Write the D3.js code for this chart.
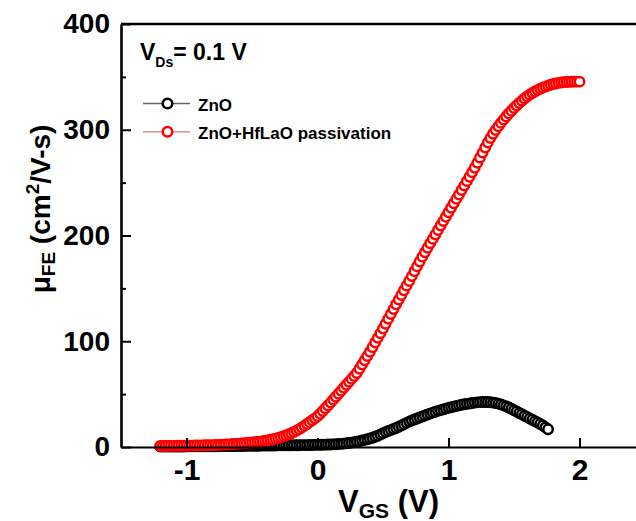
<!DOCTYPE html>
<html>
<head>
<meta charset="utf-8">
<script src="https://cdn.jsdelivr.net/npm/d3@7"></script>
<style>
  body { margin: 0; background: #fff; }
  svg { display: block; font-family: "Liberation Sans", Arial, sans-serif; font-weight: bold; }
</style>
</head>
<body>
<svg id="chart" width="636" height="521"></svg>
<script>
// gate sweep, V (both curves start at -1.2 V, step 0.02 V)
const vgsStart = -1.2
const vgsStep = 0.02

// field-effect mobility, cm2/V-s
const zno = [
  0.5, 0.5, 0.5, 0.5, 0.5, 0.5, 0.5, 0.5, 0.5, 0.5, 0.6, 0.6, 0.6, 0.6, 0.6, 0.6, 0.6, 0.6, 0.7, 0.7, 0.7,
  0.7, 0.7, 0.8, 0.8, 0.8, 0.8, 0.9, 0.9, 0.9, 1.0, 1.0, 1.0, 1.1, 1.1, 1.1,
  1.2, 1.2, 1.2, 1.3, 1.3, 1.3, 1.4, 1.4, 1.4, 1.5,
  1.5, 1.5, 1.6, 1.6, 1.6, 1.7, 1.7, 1.7, 1.8, 1.8,
  1.8, 1.9, 1.9, 2.0, 2.0, 2.1, 2.1, 2.2, 2.3, 2.4,
  2.5, 2.6, 2.8, 3.0, 3.2, 3.5, 3.8, 4.1, 4.5, 5.0,
  5.5, 6.1, 6.7, 7.3, 8.0, 8.8, 9.7, 10.7, 11.8, 13.0,
  14.1, 15.1, 16.0, 17.0, 18.0, 19.2, 20.4, 21.6, 22.8, 24.0,
  25.0, 26.0, 27.0, 27.9, 28.8, 29.8, 30.7, 31.6, 32.5, 33.4,
  34.2, 34.9, 35.6, 36.3, 37.0, 37.6, 38.2, 38.8, 39.4, 40.0,
  40.4, 40.8, 41.2, 41.6, 42.0, 42.2, 42.4, 42.5, 42.5, 42.5,
  42.3, 42.0, 41.6, 41.0, 40.3, 39.4, 38.4, 37.3, 36.1, 34.8,
  33.5, 32.2, 30.9, 29.6, 28.3, 27.0, 25.7, 24.4, 23.1, 21.8,
  20.3, 18.6, 16.8
]

const znoHfLaO = [
  1.0, 1.0, 1.0, 1.0, 1.1, 1.1, 1.1, 1.2, 1.2, 1.2, 1.3, 1.3, 1.3, 1.4, 1.4, 1.5, 1.5, 1.6, 1.6, 1.7, 1.8,
  1.9, 2.0, 2.1, 2.2, 2.3, 2.5, 2.6, 2.8, 3.0, 3.2, 3.4, 3.6, 3.8, 4.0, 4.2,
  4.5, 4.8, 5.1, 5.5, 5.9, 6.3, 6.8, 7.3, 7.9, 8.5,
  9.3, 10.1, 11.0, 12.0, 13.0, 14.2, 15.5, 16.9, 18.4, 20.0,
  21.7, 23.5, 25.3, 27.1, 29.0, 31.5, 34.0, 36.6, 39.3, 42.0,
  44.8, 47.5, 50.3, 53.1, 56.0, 58.8, 61.6, 64.4, 67.2, 70.0,
  74.0, 78.0, 82.0, 86.0, 90.0, 94.4, 98.8, 103.2, 107.6, 112.0,
  116.6, 121.2, 125.8, 130.4, 135.0, 139.4, 143.8, 148.2, 152.6, 157.0,
  161.6, 166.2, 170.8, 175.4, 180.0, 184.2, 188.4, 192.6, 196.8, 201.0,
  205.2, 209.4, 213.6, 217.8, 222.0, 226.2, 230.4, 234.6, 238.8, 243.0,
  247.2, 251.4, 255.6, 259.8, 264.0, 268.8, 273.6, 278.4, 283.2, 288.0,
  292.2, 296.2, 299.8, 303.2, 306.5, 309.6, 312.5, 315.3, 318.0, 320.6,
  323.0, 325.3, 327.5, 329.6, 331.5, 333.2, 334.8, 336.2, 337.5, 338.7,
  339.8, 340.8, 341.7, 342.5, 343.2, 343.8, 344.3, 344.7, 345.0, 345.2,
  345.3, 345.4, 345.5, 345.5, 345.5
]

const xTicks = [-1, 0, 1, 2]
const yTicks = [0, 100, 200, 300, 400]
const yMinor = [50, 150, 250, 350]

const series = [
  { name: 'ZnO', values: zno, color: '#000', line: '#666' },
  { name: 'ZnO+HfLaO passivation', values: znoHfLaO, color: '#ff0000', line: '#d77' }
]

const svg = d3.select('#chart')
const x = d3.scaleLinear().domain([-1.5, 2.5]).range([121, 645])
const y = d3.scaleLinear().domain([0, 400]).range([447, 24])

// points
series.forEach((s) => {
  svg.append('g')
    .selectAll('circle')
    .data(s.values)
    .join('circle')
    .attr('cx', (d, i) => x(vgsStart + i * vgsStep))
    .attr('cy', (d) => y(d))
    .attr('r', 4.7)
    .attr('fill', '#fff')
    .attr('stroke', s.color)
    .attr('stroke-width', 2.5)
})

// frame
svg.append('line')
  .attr('x1', x.range()[0]).attr('x2', x.range()[1])
  .attr('y1', y(400)).attr('y2', y(400))
  .attr('stroke', '#000').attr('stroke-width', 2.6)

const xAxis = svg.append('g')
  .attr('transform', `translate(0,${y(0)})`)
  .call(d3.axisBottom(x).tickValues(xTicks).tickFormat((d) => String(d))
    .tickSize(-9).tickSizeOuter(0).tickPadding(12))
xAxis.select('.domain').attr('stroke-width', 2.2)
xAxis.selectAll('.tick line').attr('stroke-width', 2)
xAxis.selectAll('.tick text')
  .attr('font-size', 30).attr('font-weight', 'bold').attr('font-family', 'inherit')

const yAxis = svg.append('g')
  .attr('transform', `translate(${x(-1.5)},0)`)
  .call(d3.axisLeft(y).tickValues(yTicks).tickFormat((d) => String(d))
    .tickSize(-10).tickSizeOuter(0).tickPadding(11))
yAxis.select('.domain').attr('stroke-width', 2.6)
yAxis.selectAll('.tick line').attr('stroke-width', 2)
yAxis.selectAll('.tick text')
  .attr('font-size', 28).attr('font-weight', 'bold').attr('font-family', 'inherit')

svg.append('g')
  .attr('transform', `translate(${x(-1.5)},0)`)
  .call(d3.axisLeft(y).tickValues(yMinor).tickSize(-5).tickFormat(''))
  .call((g) => g.select('.domain').remove())
  .selectAll('.tick line').attr('stroke-width', 2)

// axis titles
const xt = svg.append('text').attr('x', 338).attr('y', 512).attr('font-size', 31)
xt.append('tspan').text('V')
xt.append('tspan').attr('font-size', 21).attr('dy', 6).text('GS')
xt.append('tspan').attr('dy', -6).text(' (V)')

const yt = svg.append('text')
  .attr('transform', 'translate(50,209) rotate(-90)')
  .attr('text-anchor', 'middle')
  .attr('font-size', 28)
yt.append('tspan').text('\u03bc')
yt.append('tspan').attr('font-size', 19).attr('dy', 5).text('FE')
yt.append('tspan').attr('dy', -5).text(' (cm')
yt.append('tspan').attr('font-size', 19).attr('dy', -11).text('2')
yt.append('tspan').attr('dy', 11).text('/V-s)')

// condition note
const note = svg.append('text').attr('x', 140).attr('y', 60).attr('font-size', 23)
note.append('tspan').text('V')
note.append('tspan').attr('font-size', 14).attr('dy', 7).text('Ds')
note.append('tspan').attr('dy', -7).text('= 0.1 V')

// legend
series.forEach((s, i) => {
  const ly = 103.5 + i * 28.3
  svg.append('line')
    .attr('x1', 143).attr('x2', 190).attr('y1', ly).attr('y2', ly)
    .attr('stroke', s.line).attr('stroke-width', 1.3)
  svg.append('circle')
    .attr('cx', 167.5).attr('cy', ly).attr('r', 4.8)
    .attr('fill', '#fff').attr('stroke', s.color).attr('stroke-width', 2.5)
  svg.append('text')
    .attr('x', 198).attr('y', ly + 7.5)
    .attr('font-size', 17)
    .text(s.name)
})
</script>
</body>
</html>
